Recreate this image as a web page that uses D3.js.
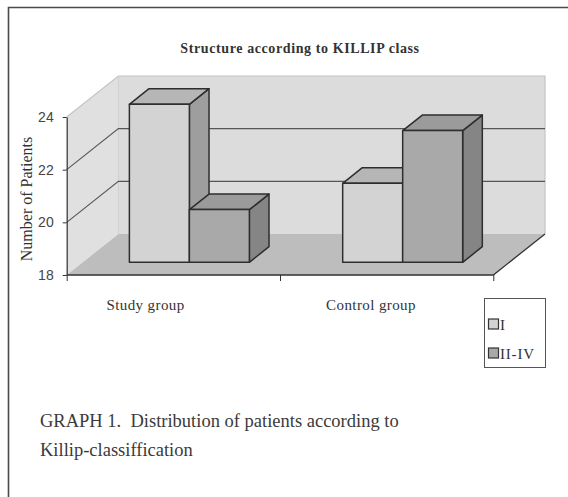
<!DOCTYPE html>
<html><head><meta charset="utf-8">
<script src="https://cdn.jsdelivr.net/npm/d3@7"></script>
<style>html,body{margin:0;padding:0;background:#fff;}svg{display:block;}</style>
</head><body>
<script>
const categories = ["Study group", "Control group"];
const seriesNames = ["I", "II-IV"];
const valuesI = [24, 21];
const valuesII = [20, 23];
const yTicks = [18, 20, 22, 24];
const gridValues = [20, 22];
const titleText = "Structure according to KILLIP class";
const yLabel = "Number of Patients";
const captionLines = ["GRAPH 1.  Distribution of patients according to", "Killip-classiffication"];

const W = 568, H = 497;
const svg = d3.select("body").append("svg").attr("width", W).attr("height", H);
const serif = "'Liberation Serif','Times New Roman',serif";

// frame
svg.append("path").attr("d", `M8.5,${H+5}V7.5H${W+5}`).attr("fill","none").attr("stroke","#4a4a4a").attr("stroke-width",1.6);

const x0 = d3.scaleBand().domain(categories).range([66.7, 493.3]).paddingInner(0.4375).paddingOuter(0.21875);
const x1 = d3.scaleBand().domain(seriesNames).range([0, x0.bandwidth()]).padding(0);
const y = d3.scaleLinear().domain([18, 24]).range([275, 117]);
const DX = 51.7, DY = -41;
const P = (x, v, z) => [x + z * DX, y(v) + z * DY];
const xFront = d3.scaleLinear().domain([0, categories.length]).range(x0.range());
const [xa, xb] = x0.range();
const [vMin, vMax] = y.domain();

const poly = pts => "M" + pts.map(p => p.join(",")).join("L") + "Z";
const line = pts => "M" + pts.map(p => p.join(",")).join("L");

// walls
svg.append("path").attr("d", poly([P(xa, vMin, 0), P(xa, vMax, 0), P(xa, vMax, 1), P(xa, vMin, 1)]))
  .attr("fill", "#e0e0e0").attr("stroke", "none");
svg.append("path").attr("d", poly([P(xa, vMin, 1), P(xa, vMax, 1), P(xb, vMax, 1), P(xb, vMin, 1)]))
  .attr("fill", "#dcdcdc").attr("stroke", "none");
svg.append("path").attr("d", line([P(xa, vMax, 0), P(xa, vMax, 1), P(xb, vMax, 1), P(xb, vMin, 1)]))
  .attr("fill", "none").attr("stroke", "#c4c4c4").attr("stroke-width", 1.2);
svg.append("path").attr("d", line([P(xa, vMax, 1), P(xa, vMin, 1)]))
  .attr("fill", "none").attr("stroke", "#cfcfcf").attr("stroke-width", 1);
// floor
svg.append("path").attr("d", poly([P(xa, vMin, 0), P(xa, vMin, 1), P(xb, vMin, 1), P(xb, vMin, 0)]))
  .attr("fill", "#bdbdbd").attr("stroke", "none");
svg.append("path").attr("d", line([P(xa, vMin, 0), P(xb, vMin, 0), P(xb, vMin, 1)]))
  .attr("fill", "none").attr("stroke", "#333").attr("stroke-width", 1.3);

// gridlines
gridValues.forEach(v => {
  svg.append("path").attr("d", line([P(xa, v, 0), P(xa, v, 1), P(xb, v, 1)]))
    .attr("fill", "none").attr("stroke", "#555").attr("stroke-width", 1.1);
});

// bars
const Z0 = 0.31, Z1 = 0.69;
const faceColors = {
  "I": {front: "#d3d3d3", top: "#b6b6b6", side: "#9e9e9e"},
  "II-IV": {front: "#a9a9a9", top: "#9b9b9b", side: "#858585"}
};
const data = [];
categories.forEach((c, i) => {
  data.push({cat: c, s: "I", v: valuesI[i]});
  data.push({cat: c, s: "II-IV", v: valuesII[i]});
});
const gBars = svg.append("g");
data.forEach(d => {
  const l = x0(d.cat) + x1(d.s), r = l + x1.bandwidth();
  const col = faceColors[d.s];
  const g = gBars.append("g").attr("stroke", "#2e2e2e").attr("stroke-width", 1.5).attr("stroke-linejoin", "round");
  g.append("path").attr("d", poly([P(r, vMin, Z0), P(r, d.v, Z0), P(r, d.v, Z1), P(r, vMin, Z1)])).attr("fill", col.side);
  g.append("path").attr("d", poly([P(l, d.v, Z0), P(l, d.v, Z1), P(r, d.v, Z1), P(r, d.v, Z0)])).attr("fill", col.top);
  g.append("path").attr("d", poly([P(l, vMin, Z0), P(l, d.v, Z0), P(r, d.v, Z0), P(r, vMin, Z0)])).attr("fill", col.front);
});

// y axis
const yAxis = svg.append("g").attr("transform", `translate(${xa},0)`)
  .call(d3.axisLeft(y).tickValues(yTicks).tickFormat(d3.format("d")).tickSize(4).tickSizeOuter(0).tickPadding(9));
yAxis.select(".domain").attr("stroke", "#333").attr("stroke-width", 1.2);
yAxis.selectAll(".tick line").attr("stroke", "#333");
yAxis.selectAll(".tick text").attr("font-family", "'Liberation Sans',Arial,sans-serif").attr("font-size", 14).attr("fill", "#444");

// x ticks
const xAxis = svg.append("g").attr("transform", `translate(0,${y(vMin)})`)
  .call(d3.axisBottom(xFront).tickValues(d3.range(categories.length + 1)).tickSize(6).tickFormat(""));
xAxis.select(".domain").remove();
xAxis.selectAll(".tick line").attr("stroke", "#333");

// category labels
const xLab = d3.scalePoint().domain(categories).range([145.5, 371]);
svg.append("g").selectAll("text").data(categories).join("text")
  .attr("x", d => xLab(d)).attr("y", 310).attr("text-anchor", "middle")
  .attr("font-family", serif).attr("font-size", 15).attr("letter-spacing", 0.4).attr("fill", "#333").text(d => d);

// title
svg.append("text").attr("x", 300).attr("y", 53).attr("text-anchor", "middle")
  .attr("font-family", serif).attr("font-weight", "bold").attr("font-size", 14).attr("letter-spacing", 0.6)
  .attr("fill", "#333").text(titleText);

// y label
svg.append("text").attr("transform", "translate(32,199) rotate(-90)").attr("text-anchor", "middle")
  .attr("font-family", serif).attr("font-size", 16).attr("fill", "#333").text(yLabel);

// legend
const lg = svg.append("g");
lg.append("rect").attr("x", 484.5).attr("y", 298.5).attr("width", 61).attr("height", 69)
  .attr("fill", "#fff").attr("stroke", "#555").attr("stroke-width", 1);
const ly = d3.scalePoint().domain(seriesNames).range([324, 353]);
seriesNames.forEach(s => {
  lg.append("rect").attr("x", 488.5).attr("y", ly(s) - 5).attr("width", 10).attr("height", 10)
    .attr("fill", faceColors[s].front).attr("stroke", "#333").attr("stroke-width", 1.2);
  lg.append("text").attr("x", 500).attr("y", ly(s) + 5.5).attr("font-family", serif).attr("font-size", 15)
    .attr("letter-spacing", 0.8).attr("fill", "#333").text(s);
});

// caption
svg.append("g").selectAll("text").data(captionLines).join("text")
  .attr("x", 40).attr("y", (d, i) => 427 + i * 29).attr("font-family", serif).attr("font-size", 18.5)
  .attr("fill", "#3a3a3a").attr("xml:space", "preserve").style("white-space", "pre").text(d => d);
</script>
</body></html>
